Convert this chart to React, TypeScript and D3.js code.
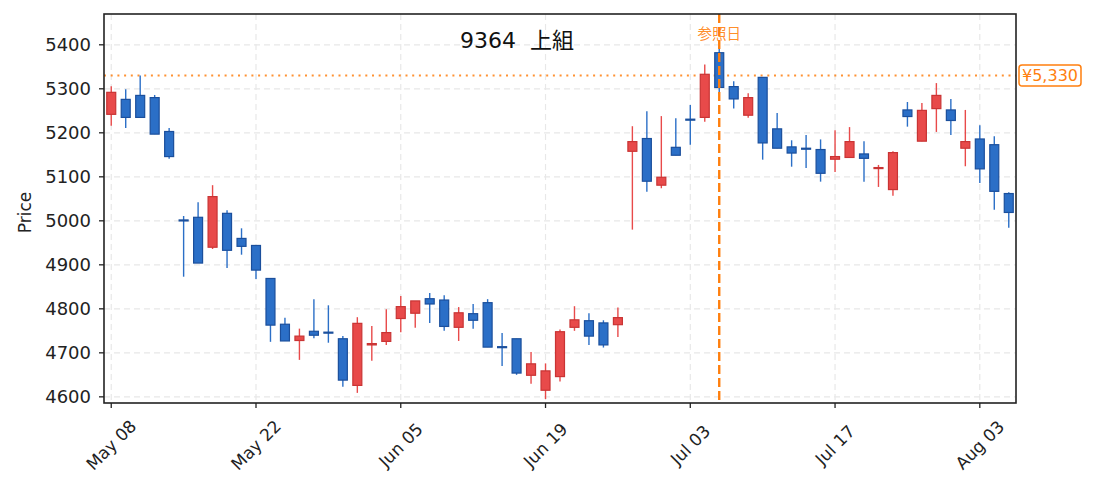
import { useRef, useEffect } from 'react';
import * as d3 from 'd3';

// OHLC per trading day (index 0 = May 08)
const opens = [
  5242, 5276, 5285, 5280, 5203, 5002, 5008, 4940, 5017, 4960,
  4944, 4869, 4765, 4728, 4749, 4747, 4732, 4626, 4718, 4726,
  4778, 4790, 4823, 4820, 4758, 4789, 4814, 4714, 4732, 4649,
  4615, 4646, 4758, 4773, 4768, 4764, 5158, 5187, 5081, 5167,
  5231, 5235, 5382, 5305, 5240, 5326, 5209, 5168, 5165, 5162,
  5140, 5144, 5152, 5120, 5071, 5252, 5181, 5255, 5252, 5165,
  5186, 5173, 5062,
];
const highs = [
  5306, 5299, 5330, 5286, 5211, 5011, 5042, 5081, 5024, 4983,
  4944, 4869, 4780, 4755, 4822, 4808, 4738, 4781, 4761, 4799,
  4829, 4818, 4836, 4831, 4804, 4811, 4822, 4745, 4732, 4702,
  4676, 4753, 4806, 4790, 4774, 4803, 5215, 5249, 5238, 5233,
  5263, 5355, 5396, 5317, 5290, 5326, 5245, 5183, 5195, 5185,
  5206, 5213, 5181, 5127, 5158, 5270, 5268, 5313, 5277, 5252,
  5217, 5192, 5065,
];
const lows = [
  5216, 5211, 5235, 5197, 5141, 4873, 4904, 4936, 4893, 4923,
  4868, 4725, 4727, 4684, 4733, 4723, 4623, 4609, 4682, 4718,
  4747, 4757, 4768, 4750, 4727, 4755, 4713, 4670, 4650, 4630,
  4595, 4635, 4750, 4718, 4712, 4736, 4980, 5066, 5074, 5149,
  5173, 5225, 5288, 5255, 5234, 5139, 5165, 5123, 5120, 5089,
  5111, 5144, 5089, 5077, 5057, 5214, 5181, 5202, 5195, 5124,
  5086, 5025, 4984,
];
const closes = [
  5292, 5235, 5235, 5197, 5146, 5000, 4904, 5055, 4933, 4942,
  4888, 4763, 4727, 4738, 4740, 4745, 4638, 4767, 4721, 4746,
  4805, 4818, 4811, 4760, 4791, 4774, 4713, 4712, 4654, 4675,
  4659, 4748, 4775, 4738, 4718, 4780, 5180, 5090, 5099, 5149,
  5229, 5333, 5303, 5277, 5280, 5177, 5165, 5154, 5163, 5108,
  5146, 5180, 5142, 5121, 5155, 5237, 5251, 5285, 5228, 5180,
  5118, 5067, 5019,
];

const tickIndex = [0, 10, 20, 30, 40, 50, 60];
const tickDates = ['May 08', 'May 22', 'Jun 05', 'Jun 19', 'Jul 03', 'Jul 17', 'Aug 03'];
const priceTicks = [4600, 4700, 4800, 4900, 5000, 5100, 5200, 5300, 5400];

const title = '9364  上組';
const refIndex = 42;
const refLabel = '参照日';
const currentPrice = 5330;

const FONT = "'DejaVu Sans', 'Noto Sans CJK JP', sans-serif";

export default function App() {
  const svgRef = useRef<SVGSVGElement>(null);

  useEffect(() => {
    if (!svgRef.current) return;
    const svg = d3.select(svgRef.current);
    svg.selectAll('*').remove();

    const width = 1095;
    const height = 492;
    const left = 104, right = 1016, top = 14, bottom = 403;
    const n = opens.length;

    const x = d3.scaleLinear().domain([-0.5, n - 0.5]).range([left, right]);
    const y = d3.scaleLinear().domain([4586, 5470]).range([bottom, top]);

    const orange = '#ff7f0e';
    const upFill = '#e84a4a', upEdge = '#c93434';
    const downFill = '#2b6fc7', downEdge = '#1b4f9c';

    svg.attr('width', width).attr('height', height);
    svg.append('rect').attr('width', width).attr('height', height).attr('fill', '#fff');

    // grid
    const grid = svg.append('g');
    grid.selectAll('.hg')
      .data(priceTicks)
      .enter()
      .append('line')
      .attr('x1', left).attr('x2', right)
      .attr('y1', (d) => y(d)).attr('y2', (d) => y(d))
      .attr('stroke', '#e8e8e8').attr('stroke-width', 1.2)
      .attr('stroke-dasharray', '6,4');
    grid.selectAll('.vg')
      .data(tickIndex)
      .enter()
      .append('line')
      .attr('x1', (d) => x(d)).attr('x2', (d) => x(d))
      .attr('y1', top).attr('y2', bottom)
      .attr('stroke', '#e8e8e8').attr('stroke-width', 1.2)
      .attr('stroke-dasharray', '6,4');

    // current price line
    svg.append('line')
      .attr('x1', left).attr('x2', right)
      .attr('y1', y(currentPrice)).attr('y2', y(currentPrice))
      .attr('stroke', orange).attr('stroke-width', 2)
      .attr('stroke-opacity', 0.85)
      .attr('stroke-dasharray', '2,4.7');

    // candles
    const idx = d3.range(n);
    const bw = (x(1) - x(0)) * 0.62;
    const candles = svg.append('g');
    candles.selectAll('.wick')
      .data(idx)
      .enter()
      .append('line')
      .attr('x1', (i) => x(i)).attr('x2', (i) => x(i))
      .attr('y1', (i) => y(highs[i])).attr('y2', (i) => y(lows[i]))
      .attr('stroke', (i) => (closes[i] >= opens[i] ? upFill : downFill))
      .attr('stroke-width', 1.4);
    candles.selectAll('.body')
      .data(idx)
      .enter()
      .append('rect')
      .attr('x', (i) => x(i) - bw / 2)
      .attr('y', (i) => y(Math.max(opens[i], closes[i])))
      .attr('width', bw)
      .attr('height', (i) => Math.max(1, Math.abs(y(opens[i]) - y(closes[i]))))
      .attr('fill', (i) => (closes[i] >= opens[i] ? upFill : downFill))
      .attr('stroke', (i) => (closes[i] >= opens[i] ? upEdge : downEdge))
      .attr('stroke-width', 1.2);

    // reference date line
    svg.append('line')
      .attr('x1', x(refIndex)).attr('x2', x(refIndex))
      .attr('y1', top).attr('y2', bottom)
      .attr('stroke', orange).attr('stroke-width', 2.4)
      .attr('stroke-dasharray', '9,4');
    svg.append('text')
      .attr('x', x(refIndex)).attr('y', 34)
      .attr('text-anchor', 'middle').attr('dominant-baseline', 'central')
      .attr('fill', orange).attr('font-family', FONT).attr('font-size', '14.5px')
      .attr('fill-opacity', 0.9)
      .text(refLabel);

    // title
    svg.append('text')
      .attr('x', 517).attr('y', 40)
      .attr('text-anchor', 'middle').attr('dominant-baseline', 'central')
      .attr('fill', '#111').attr('font-family', FONT).attr('font-size', '22px')
      .style('white-space', 'pre')
      .text(title);

    // frame
    svg.append('rect')
      .attr('x', left).attr('y', top)
      .attr('width', right - left).attr('height', bottom - top)
      .attr('fill', 'none').attr('stroke', '#222').attr('stroke-width', 1.6);

    // y axis
    const ya = svg.append('g');
    ya.selectAll('line')
      .data(priceTicks)
      .enter()
      .append('line')
      .attr('x1', left - 5).attr('x2', left)
      .attr('y1', (d) => y(d)).attr('y2', (d) => y(d))
      .attr('stroke', '#222').attr('stroke-width', 1.3);
    ya.selectAll('text')
      .data(priceTicks)
      .enter()
      .append('text')
      .attr('x', left - 13)
      .attr('y', (d) => y(d))
      .attr('text-anchor', 'end').attr('dominant-baseline', 'central')
      .attr('fill', '#222').attr('font-family', FONT).attr('font-size', '18px')
      .text((d) => String(d));
    svg.append('text')
      .attr('transform', `translate(25,${(top + bottom) / 2 + 4}) rotate(-90)`)
      .attr('text-anchor', 'middle').attr('dominant-baseline', 'central')
      .attr('fill', '#222').attr('font-family', FONT).attr('font-size', '17px')
      .text('Price');

    // x axis
    const xa = svg.append('g');
    xa.selectAll('line')
      .data(tickIndex)
      .enter()
      .append('line')
      .attr('x1', (d) => x(d)).attr('x2', (d) => x(d))
      .attr('y1', bottom).attr('y2', bottom + 5)
      .attr('stroke', '#222').attr('stroke-width', 1.3);
    xa.selectAll('text')
      .data(tickIndex)
      .enter()
      .append('text')
      .attr('transform', (d) => `translate(${x(d)},445) rotate(-45)`)
      .attr('text-anchor', 'middle').attr('dominant-baseline', 'central')
      .attr('fill', '#222').attr('font-family', FONT).attr('font-size', '17px')
      .text((_, i) => tickDates[i]);

    // current price tag
    const tag = svg.append('g').attr('transform', `translate(${right + 3},${y(currentPrice)})`);
    const tagText = tag.append('text')
      .attr('x', 31).attr('y', 0)
      .attr('text-anchor', 'middle').attr('dominant-baseline', 'central')
      .attr('fill', orange).attr('font-family', FONT).attr('font-size', '16px')
      .text(`¥${d3.format(',')(currentPrice)}`);
    const tw = (tagText.node() as SVGTextElement).getComputedTextLength();
    tag.insert('rect', 'text')
      .attr('x', 31 - tw / 2 - 3).attr('y', -10.5)
      .attr('width', tw + 6).attr('height', 21)
      .attr('rx', 3)
      .attr('fill', '#fff').attr('stroke', orange).attr('stroke-width', 1.5);
  }, []);

  return (
    <div style={{ position: 'fixed', left: 0, top: 0 }}>
      <svg ref={svgRef} />
    </div>
  );
}
